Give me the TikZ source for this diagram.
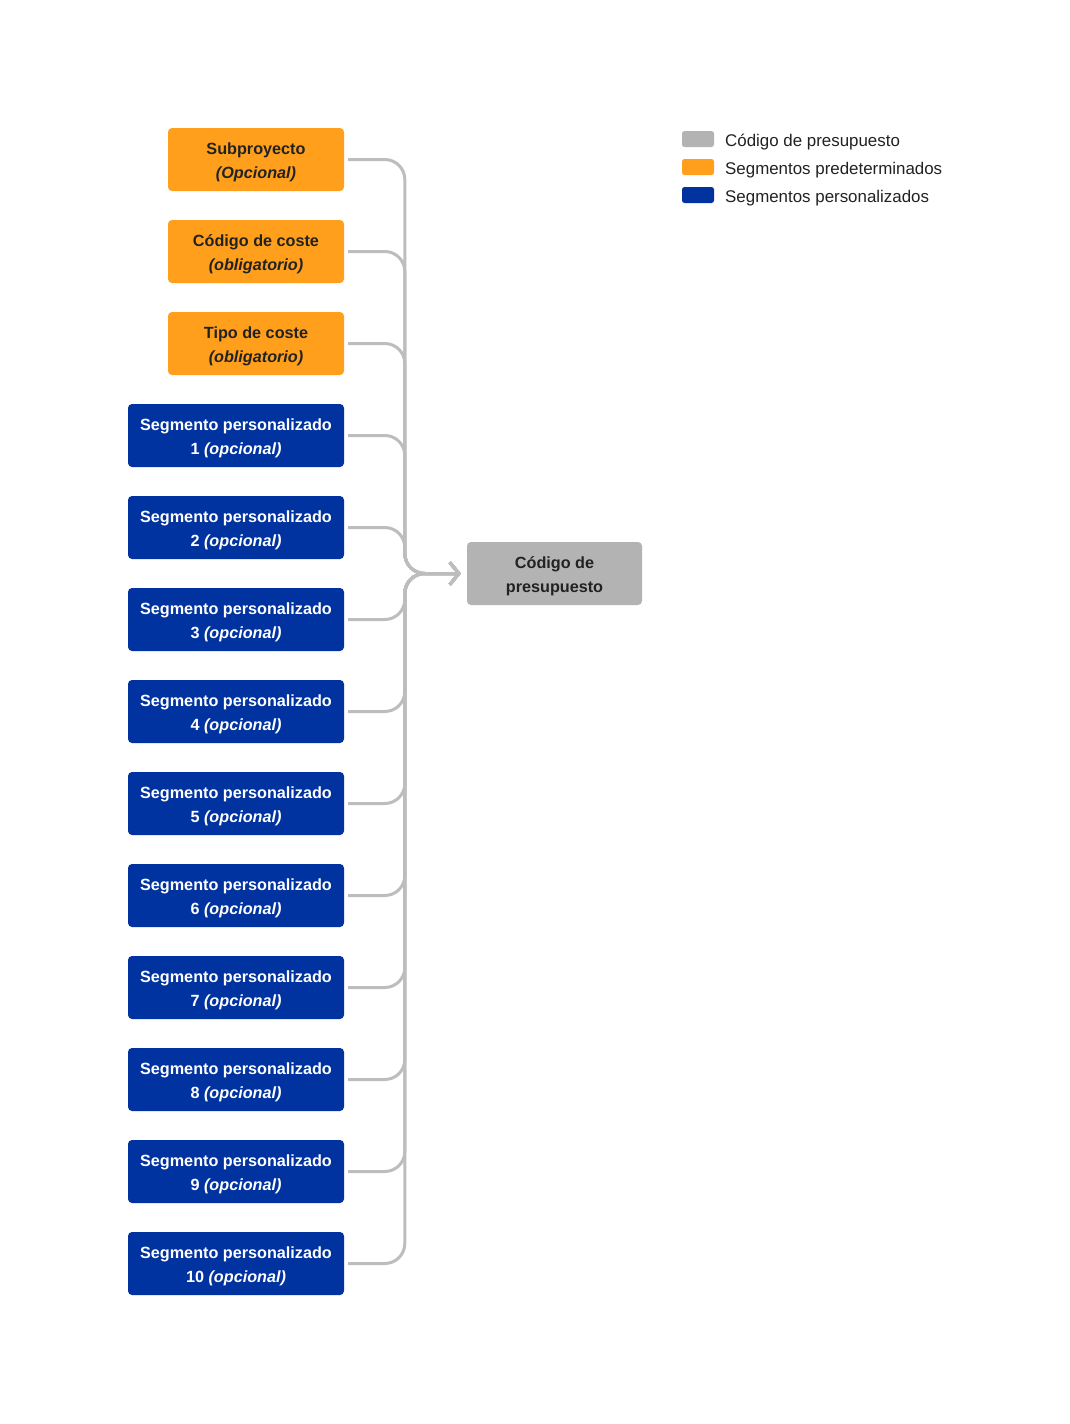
\documentclass[tikz,border=0pt]{standalone}
\usepackage{fontspec}
\setmainfont{Liberation Sans}
\usetikzlibrary{arrows.meta}
\definecolor{org}{HTML}{FF9F1C}
\definecolor{blu}{HTML}{0033A0}
\definecolor{gry}{HTML}{B3B3B3}
\definecolor{lin}{HTML}{BDBDBD}
\definecolor{dtxt}{HTML}{222222}
\newcommand{\tp}{\rule{0pt}{17pt}}
\begin{document}
\begin{tikzpicture}[x=1pt,y=-1pt,
 box/.style={rounded corners=4pt, minimum height=63pt, inner sep=0pt, align=center, font=\fontsize{16.2}{24}\selectfont\bfseries},
 obox/.style={box, fill=org, text=dtxt, minimum width=176pt},
 bbox/.style={box, fill=blu, text=white, minimum width=216pt},
 gbox/.style={box, fill=gry, text=dtxt, minimum width=175pt},
 swatch/.style={rounded corners=2.5pt, minimum width=32pt, minimum height=16pt, inner sep=0pt},
 legtxt/.style={anchor=west, inner sep=0pt, text=dtxt, font=\fontsize{16.9}{20}\selectfont},
 conn/.style={draw=lin, line width=3pt, rounded corners=20pt, -{Straight Barb[length=9pt,width=22pt]}}]
\useasboundingbox (0,0) rectangle (1070,1424);
\fill[white] (0,0) rectangle (1070,1424);
% code node
\node[gbox] (code) at (554.5,573.5) {\tp Código de\\presupuesto};
% orange
\node[obox] (s1) at (256,159.5) {\tp Subproyecto\\\textit{(Opcional)}};
\node[obox] (s2) at (256,251.5) {\tp Código de coste\\\textit{(obligatorio)}};
\node[obox] (s3) at (256,343.5) {\tp Tipo de coste\\\textit{(obligatorio)}};
% blue
\foreach \i in {1,...,10}{
  \pgfmathsetmacro{\yy}{343.5+92*\i}
  \node[bbox] (p\i) at (236,\yy) {\tp Segmento personalizado\\\i\ \textit{(opcional)}};
}
% connectors
\foreach \n in {s1,s2,s3,p1,p2,p3,p4,p5,p6,p7,p8,p9,p10}{
  \draw[conn] ([xshift=4pt]\n.east) -| ([xshift=-62pt]code.west) -- ([xshift=-6pt]code.west);
}
% legend
\node[swatch, fill=gry] (l1) at (698,139) {};
\node[swatch, fill=org] (l2) at (698,167) {};
\node[swatch, fill=blu] (l3) at (698,195) {};
\node[legtxt] (t1) at (725,142) {Código de presupuesto};
\node[legtxt] (t2) at (725,170) {Segmentos predeterminados};
\node[legtxt] (t3) at (725,198) {Segmentos personalizados};
\end{tikzpicture}
\end{document}
